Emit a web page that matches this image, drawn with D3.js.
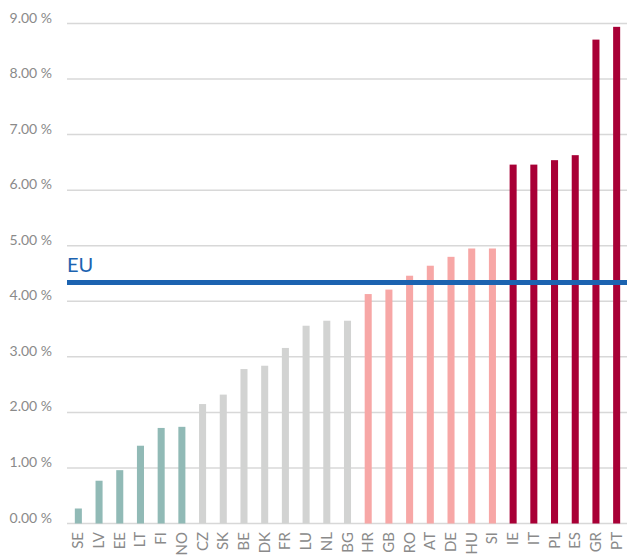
<!DOCTYPE html>
<html>
<head>
<meta charset="utf-8">
<script src="https://cdn.jsdelivr.net/npm/d3@7"></script>
<style>
  html, body { margin: 0; padding: 0; background: #fff; }
  svg { display: block; font-family: Lato, "Open Sans", sans-serif; }
</style>
</head>
<body>
<div id="chart"></div>
<script>
// Countries, ordered as in the chart
const countries = ['SE', 'LV', 'EE', 'LT', 'FI', 'NO', 'CZ', 'SK', 'BE', 'DK', 'FR', 'LU', 'NL', 'BG',
  'HR', 'GB', 'RO', 'AT', 'DE', 'HU', 'SI', 'IE', 'IT', 'PL', 'ES', 'GR', 'PT'];
// Values in percent
const values = [0.27, 0.77, 0.96, 1.40, 1.72, 1.74, 2.15, 2.32, 2.78, 2.84, 3.16, 3.56, 3.65, 3.65,
  4.13, 4.21, 4.46, 4.64, 4.80, 4.95, 4.95, 6.46, 6.46, 6.54, 6.63, 8.71, 8.94];
// Colour group for each bar
const groups = ['low', 'low', 'low', 'low', 'low', 'low',
  'mid', 'mid', 'mid', 'mid', 'mid', 'mid', 'mid', 'mid',
  'high', 'high', 'high', 'high', 'high', 'high', 'high',
  'top', 'top', 'top', 'top', 'top', 'top'];
const yTicks = [0, 1, 2, 3, 4, 5, 6, 7, 8, 9];
const euValue = 4.34;

const width = 627;
const height = 555;
const margin = { top: 23, right: 0, bottom: 32, left: 67 };

const color = d3.scaleOrdinal()
  .domain(['low', 'mid', 'high', 'top'])
  .range(['#91bab6', '#d2d3d2', '#f7a7a6', '#a80036']);

const svg = d3.select('#chart')
  .append('svg')
  .attr('width', width)
  .attr('height', height);

const x = d3.scaleBand()
  .domain(countries)
  .range([margin.left + 1, width])
  .paddingInner(0.66)
  .paddingOuter(0.33);

const y = d3.scaleLinear()
  .domain([0, 9])
  .range([523.5, margin.top + 0.5]);

// Grid lines
svg.append('g')
  .selectAll('line')
  .data(yTicks)
  .join('line')
  .attr('x1', margin.left)
  .attr('x2', width)
  .attr('y1', d => y(d))
  .attr('y2', d => y(d))
  .attr('stroke', '#d8d8d8')
  .attr('stroke-width', 1.5);

// Y labels
svg.append('g')
  .selectAll('text')
  .data(yTicks)
  .join('text')
  .attr('x', 52)
  .attr('y', d => y(d) - 1)
  .attr('text-anchor', 'end')
  .attr('fill', '#8a8a8a')
  .attr('font-size', '14px')
  .text(d => d3.format('.2f')(d) + ' %');

// Bars
svg.append('g')
  .selectAll('rect')
  .data(values)
  .join('rect')
  .attr('x', (d, i) => x(countries[i]))
  .attr('width', x.bandwidth())
  .attr('y', d => y(d))
  .attr('height', d => y(0) - y(d))
  .attr('fill', (d, i) => color(groups[i]));

// EU average line
svg.append('line')
  .attr('x1', margin.left)
  .attr('x2', width)
  .attr('y1', y(euValue))
  .attr('y2', y(euValue))
  .attr('stroke', '#1c63b0')
  .attr('stroke-width', 5);

svg.append('text')
  .attr('x', margin.left)
  .attr('y', y(euValue) - 10)
  .attr('fill', '#1c63b0')
  .attr('font-size', '20px')
  .text('EU');

// X labels, rotated
svg.append('g')
  .selectAll('text')
  .data(countries)
  .join('text')
  .attr('transform', d => `translate(${x(d) + x.bandwidth() / 2 + 5},532) rotate(-90)`)
  .attr('text-anchor', 'end')
  .attr('fill', '#8a8a8a')
  .attr('font-size', '15px')
  .text(d => d);
</script>
</body>
</html>
